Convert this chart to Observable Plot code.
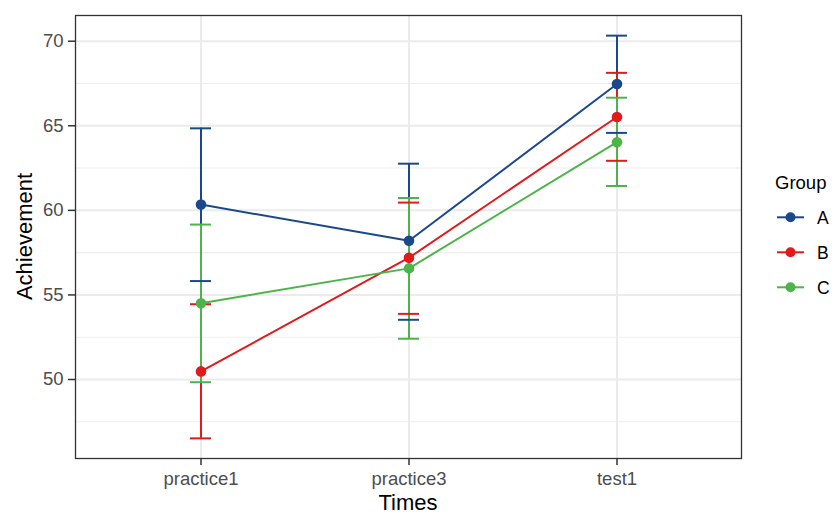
<!DOCTYPE html>
<html><head><meta charset="utf-8">
<script src="https://cdn.jsdelivr.net/npm/d3@7"></script>
<script src="https://cdn.jsdelivr.net/npm/@observablehq/plot@0.6"></script>
<style>
body{margin:0;background:#fff}
#wrap{position:relative;width:834px;height:515px;font-family:"Liberation Sans",Arial,sans-serif}
#wrap svg text{font-family:"Liberation Sans",Arial,sans-serif}
#chart g[aria-label*="axis"] text{fill:#4d4d4d}
#chart g[aria-label*="axis"] line, #chart g[aria-label*="axis"] path{stroke:#333;stroke-width:1.5}
#overlay{position:absolute;left:0;top:0;pointer-events:none}
</style></head>
<body>
<div id="wrap"><div id="chart"></div></div>
<script>
const times = ["practice1", "practice3", "test1"];
const groups = ["A", "B", "C"];
const colors = ["#19498C", "#E21A1C", "#4DB44A"];
const meanA = [60.34, 58.20, 67.47];
const loA   = [55.82, 53.53, 64.58];
const hiA   = [64.85, 62.76, 70.33];
const meanB = [50.48, 57.20, 65.52];
const loB   = [46.52, 53.88, 62.93];
const hiB   = [54.45, 60.46, 68.13];
const meanC = [54.51, 56.57, 64.03];
const loC   = [49.84, 52.41, 61.44];
const hiC   = [59.16, 60.73, 66.66];
const majorTicks = [50, 55, 60, 65, 70];
const minorTicks = [47.5, 52.5, 57.5, 62.5, 67.5];

const series = {A: [meanA, loA, hiA], B: [meanB, loB, hiB], C: [meanC, loC, hiC]};
const rows = [];
for (const g of groups) {
  const [m, lo, hi] = series[g];
  times.forEach((t, i) => rows.push({group: g, time: t, mean: m[i], lo: lo[i], hi: hi[i]}));
}
const allLo = d3.min(rows, d => d.lo), allHi = d3.max(rows, d => d.hi);
const pad = (allHi - allLo) * 0.05;

const plot = Plot.plot({
  width: 834, height: 515,
  marginLeft: 75, marginRight: 93, marginTop: 15, marginBottom: 57,
  style: {fontSize: "18.5px", fontFamily: "Liberation Sans, Arial, sans-serif", color: "#333", background: "#fff"},
  x: {domain: times, type: "band", paddingInner: 0.9, paddingOuter: 0.55, tickSize: 7, tickPadding: 6, label: null},
  y: {domain: [allLo - pad, allHi + pad], ticks: majorTicks, tickSize: 7, tickPadding: 5, label: null},
  color: {domain: groups, range: colors},
  marks: [
    Plot.ruleY(minorTicks, {stroke: "#eeeeee", strokeWidth: 1.1}),
    Plot.ruleY(majorTicks, {stroke: "#ebebeb", strokeWidth: 2}),
    Plot.ruleX(times, {x: d => d, stroke: "#ebebeb", strokeWidth: 2}),
    Plot.ruleX(rows, {x: "time", y1: "lo", y2: "hi", stroke: "group", strokeWidth: 2}),
    Plot.tickY(rows, {x: "time", y: "lo", stroke: "group", strokeWidth: 2}),
    Plot.tickY(rows, {x: "time", y: "hi", stroke: "group", strokeWidth: 2}),
    Plot.line(rows, {x: "time", y: "mean", z: "group", stroke: "group", strokeWidth: 2}),
    Plot.dot(rows, {x: "time", y: "mean", fill: "group", r: 5.3}),
    Plot.frame({stroke: "#333", strokeWidth: 1.3})
  ]
});
document.getElementById("chart").appendChild(plot);

// axis titles and legend
const ov = d3.select("#wrap").append("svg").attr("id", "overlay").attr("width", 834).attr("height", 515);
ov.append("text").attr("x", 408).attr("y", 510).attr("text-anchor", "middle")
  .attr("font-size", 22).attr("fill", "#000").text("Times");
ov.append("text").attr("transform", "translate(31.5,236.5) rotate(-90)").attr("text-anchor", "middle")
  .attr("font-size", 22).attr("fill", "#000").text("Achievement");
ov.append("text").attr("x", 775).attr("y", 189).attr("font-size", 18.5).attr("fill", "#000").text("Group");
groups.forEach((g, i) => {
  const y = 217.3 + i * 35;
  ov.append("line").attr("x1", 777).attr("x2", 804).attr("y1", y).attr("y2", y)
    .attr("stroke", colors[i]).attr("stroke-width", 2);
  ov.append("circle").attr("cx", 790.5).attr("cy", y).attr("r", 5).attr("fill", colors[i]);
  ov.append("text").attr("x", 817).attr("y", y + 6.3).attr("font-size", 17.5).attr("fill", "#000").text(g);
});
</script>
</body></html>
